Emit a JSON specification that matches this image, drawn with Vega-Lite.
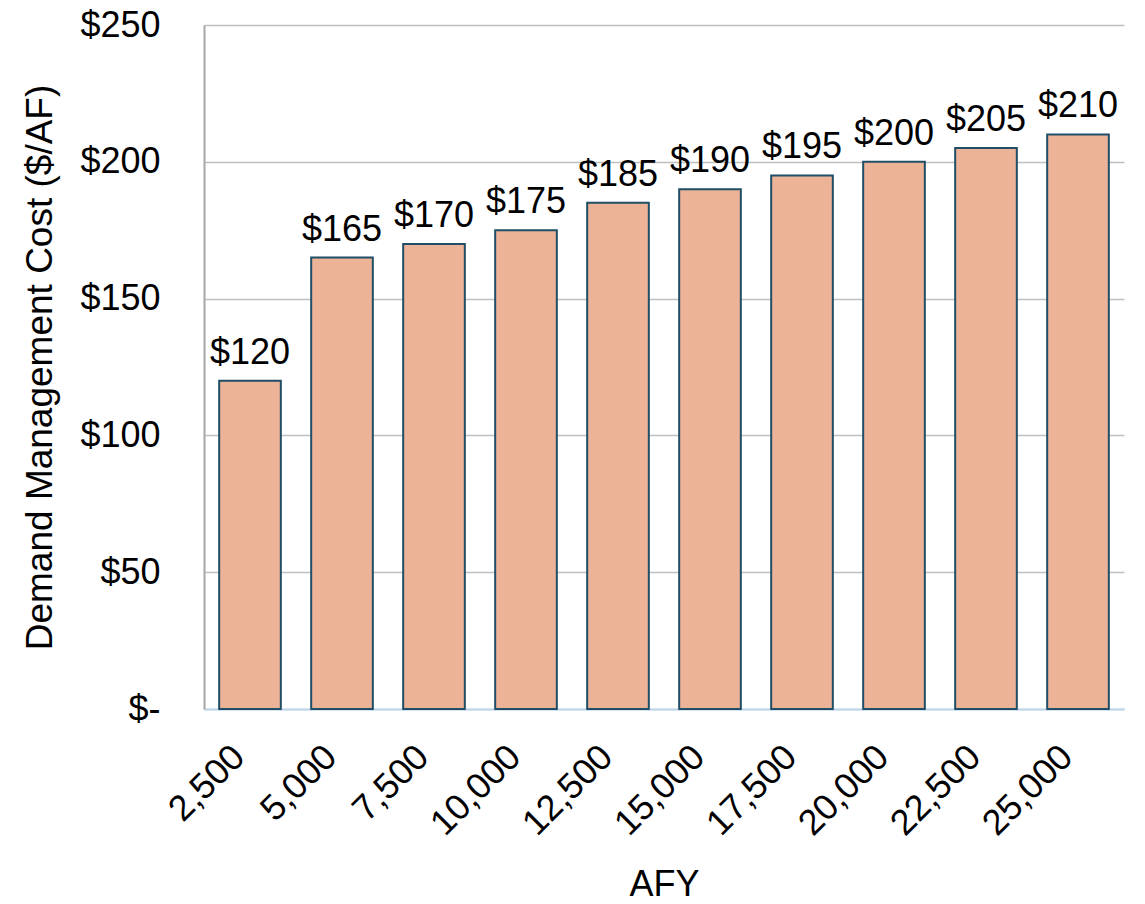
{
  "$schema": "https://vega.github.io/schema/vega-lite/v6.json",
  "autosize": {"type": "none"},
  "width": 920,
  "height": 684,
  "padding": {"left": 204, "top": 25, "right": 21, "bottom": 195},
  "background": "white",
  "data": {
    "values": [
      {"afy": "2,500", "cost": 120},
      {"afy": "5,000", "cost": 165},
      {"afy": "7,500", "cost": 170},
      {"afy": "10,000", "cost": 175},
      {"afy": "12,500", "cost": 185},
      {"afy": "15,000", "cost": 190},
      {"afy": "17,500", "cost": 195},
      {"afy": "20,000", "cost": 200},
      {"afy": "22,500", "cost": 205},
      {"afy": "25,000", "cost": 210}
    ]
  },
  "config": {
    "font": "Liberation Sans",
    "view": {"stroke": null}
  },
  "encoding": {
    "x": {
      "field": "afy",
      "type": "ordinal",
      "sort": null,
      "scale": {"paddingInner": 0.33, "paddingOuter": 0.165},
      "axis": {
        "title": "AFY",
        "titleFont": "Liberation Sans",
        "titleFontSize": 36,
        "titleFontWeight": "normal",
        "titleColor": "black",
        "titlePadding": 26,
        "labelAngle": -45,
        "labelAlign": "right",
        "labelBaseline": "middle",
        "labelOffset": -11,
        "labelFontSize": 36,
        "labelColor": "black",
        "labelPadding": 42,
        "ticks": false,
        "domainColor": "#BDD7EE",
        "domainWidth": 2
      }
    },
    "y": {
      "field": "cost",
      "type": "quantitative",
      "scale": {"domain": [0, 250]},
      "axis": {
        "title": "Demand Management Cost ($/AF)",
        "titleFont": "Liberation Sans",
        "titleFontSize": 37,
        "titleFontWeight": "normal",
        "titleColor": "black",
        "titlePadding": 20,
        "values": [0, 50, 100, 150, 200, 250],
        "labelExpr": "datum.value == 0 ? '$-' : '$' + datum.value",
        "labelFontSize": 36,
        "labelColor": "black",
        "labelPadding": 44,
        "ticks": false,
        "domainColor": "#A6A6A6",
        "domainWidth": 2,
        "grid": true,
        "gridColor": "#BFBFBF",
        "gridWidth": 1.5
      }
    }
  },
  "layer": [
    {
      "mark": {"type": "bar", "color": "#EDB396", "stroke": "#1F4E66", "strokeWidth": 2}
    },
    {
      "mark": {"type": "text", "fontSize": 36, "color": "black", "baseline": "alphabetic", "dy": -17},
      "encoding": {"text": {"field": "cost", "type": "quantitative", "format": "$d"}}
    }
  ]
}
